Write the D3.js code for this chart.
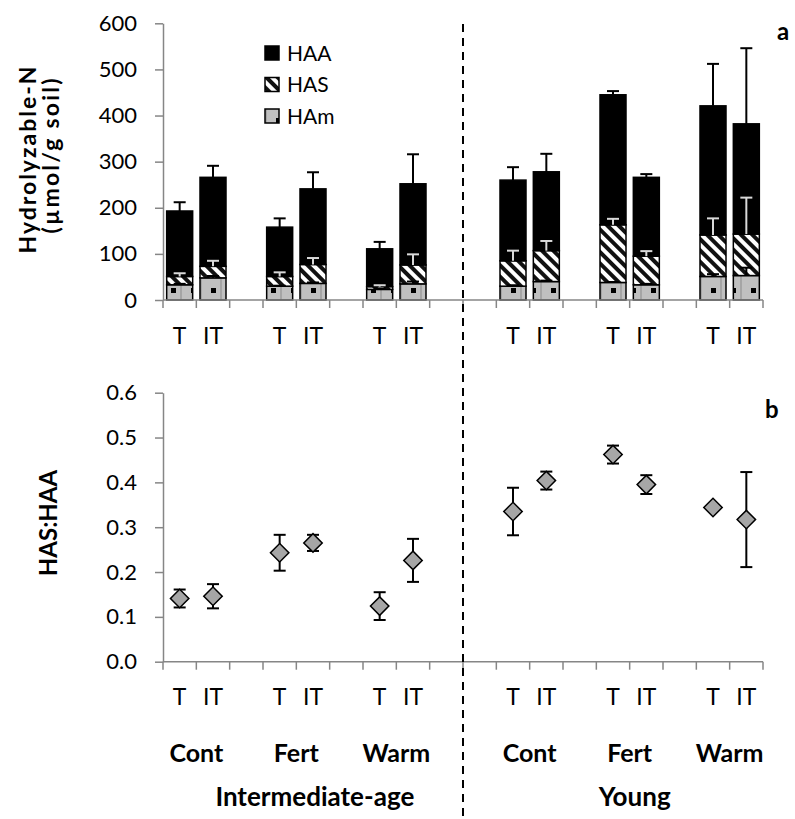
<!DOCTYPE html>
<html>
<head>
<meta charset="utf-8">
<script src="https://cdn.jsdelivr.net/npm/d3@7"></script>
<style>
  body { margin: 0; background: #fff; }
  svg { font-family: Lato, 'Open Sans', sans-serif; }
</style>
</head>
<body>
<svg id="chart" width="795" height="819"></svg>
<script>
// category slots along the x axis (gaps are empty Excel categories)
const slots = ['I-Cont-T', 'I-Cont-IT', 'gap1', 'I-Fert-T', 'I-Fert-IT', 'gap2',
  'I-Warm-T', 'I-Warm-IT', 'gap3', 'gap4', 'Y-Cont-T', 'Y-Cont-IT', 'gap5',
  'Y-Fert-T', 'Y-Fert-IT', 'gap6', 'Y-Warm-T', 'Y-Warm-IT'];
const samples = ['I-Cont-T', 'I-Cont-IT', 'I-Fert-T', 'I-Fert-IT', 'I-Warm-T', 'I-Warm-IT',
  'Y-Cont-T', 'Y-Cont-IT', 'Y-Fert-T', 'Y-Fert-IT', 'Y-Warm-T', 'Y-Warm-IT'];
const treatLabels = ['T', 'IT', 'T', 'IT', 'T', 'IT', 'T', 'IT', 'T', 'IT', 'T', 'IT'];
const groups = ['Cont', 'Fert', 'Warm'];
const sites = ['Intermediate-age', 'Young'];
const sitePrefix = ['I', 'Y'];

// panel a: stacked segments (umol/g soil) and their upper error bars
const hAm = [33, 48, 30, 36, 23, 35, 30, 40, 38, 33, 51, 53];
const hAS = [18, 25, 21, 41, 6, 41, 55, 67, 125, 62, 90, 90];
const hAA = [142, 193, 107, 164, 82, 176, 175, 171, 282, 171, 280, 239];
const hAmErr = [2, 4, 1, 2, 1, 5, 2, 2, 1, 2, 5, 17];
const hASErr = [7, 12, 9, 14, 3, 23, 22, 21, 13, 11, 36, 79];
const hAAErr = [19, 25, 19, 36, 15, 64, 28, 39, 8, 7, 91, 164];

// panel b: HAS:HAA ratio with symmetric error
const ratio = [0.141, 0.146, 0.243, 0.265, 0.124, 0.226, 0.335, 0.404, 0.462, 0.395, 0.344, 0.317];
const ratioErr = [0.02, 0.027, 0.04, 0.018, 0.031, 0.048, 0.053, 0.02, 0.02, 0.021, 0.004, 0.106];

const yTicksA = [0, 100, 200, 300, 400, 500, 600];
const yTicksB = [0, 0.1, 0.2, 0.3, 0.4, 0.5, 0.6];

const svg = d3.select('#chart');
const axisColor = '#868686';

const x = d3.scaleBand().domain(slots).range([163, 763]).paddingInner(0.22).paddingOuter(0.11);
const cx = (s) => x(s) + x.bandwidth() / 2;
const yA = d3.scaleLinear().domain([0, 600]).range([300, 23.3]);
const yB = d3.scaleLinear().domain([0, 0.6]).range([661.7, 392.7]);

// patterns
const defs = svg.append('defs');
const hatch = defs.append('pattern')
  .attr('id', 'hatchHAS')
  .attr('patternUnits', 'userSpaceOnUse')
  .attr('width', 8)
  .attr('height', 8)
  .attr('patternTransform', 'rotate(45)');
hatch.append('rect').attr('width', 8).attr('height', 8).attr('fill', '#fff');
hatch.append('rect').attr('width', 8).attr('height', 4).attr('fill', '#111');

const dots = defs.append('pattern')
  .attr('id', 'dotsHAm')
  .attr('patternUnits', 'userSpaceOnUse')
  .attr('width', 20)
  .attr('height', 22)
  .attr('x', 3)
  .attr('y', 15);
dots.append('rect').attr('width', 20).attr('height', 22).attr('fill', '#c0c0c0');
dots.append('rect').attr('x', 8).attr('y', 9).attr('width', 5).attr('height', 5).attr('fill', '#000');
dots.append('line').attr('x1', 18).attr('x2', 18).attr('y1', 0).attr('y2', 22)
  .attr('stroke', '#8a8a8a').attr('stroke-width', 1);

// ---------- panel a ----------
const rows = samples.map((s, i) => ({ slot: s, HAm: hAm[i], HAS: hAS[i], HAA: hAA[i] }));
const keys = ['HAm', 'HAS', 'HAA'];
const fills = { HAm: 'url(#dotsHAm)', HAS: 'url(#hatchHAS)', HAA: '#000' };
const errs = { HAm: hAmErr, HAS: hASErr, HAA: hAAErr };
const errColor = { HAm: '#000', HAS: '#d9d9d9', HAA: '#000' };
const stacked = d3.stack().keys(keys)(rows);

const gA = svg.append('g').attr('id', 'panelA');

gA.selectAll('g.layer')
  .data(stacked)
  .enter()
  .append('g')
  .attr('class', 'layer')
  .attr('fill', (d) => fills[d.key])
  .selectAll('rect')
  .data((d) => d)
  .enter()
  .append('rect')
  .attr('x', (d) => x(d.data.slot))
  .attr('y', (d) => yA(d[1]))
  .attr('width', x.bandwidth())
  .attr('height', (d) => yA(d[0]) - yA(d[1]))
  .attr('stroke', '#000')
  .attr('stroke-width', 1.5);

stacked.forEach((layer) => {
  const e = errs[layer.key];
  const g = gA.append('g')
    .attr('stroke', errColor[layer.key])
    .attr('stroke-width', 2);
  g.selectAll('line.stem')
    .data(layer)
    .enter()
    .append('line')
    .attr('class', 'stem')
    .attr('x1', (d) => cx(d.data.slot))
    .attr('x2', (d) => cx(d.data.slot))
    .attr('y1', (d) => yA(d[1]))
    .attr('y2', (d, i) => yA(d[1] + e[i]));
  g.selectAll('line.cap')
    .data(layer)
    .enter()
    .append('line')
    .attr('class', 'cap')
    .attr('x1', (d) => cx(d.data.slot) - 6)
    .attr('x2', (d) => cx(d.data.slot) + 6)
    .attr('y1', (d, i) => yA(d[1] + e[i]))
    .attr('y2', (d, i) => yA(d[1] + e[i]));
});

// ---------- panel b ----------
const gB = svg.append('g').attr('id', 'panelB');
const ptData = samples.map((s, i) => ({ slot: s, v: ratio[i], e: ratioErr[i] }));

const eb = gB.append('g').attr('stroke', '#000').attr('stroke-width', 2);
eb.selectAll('line.stem')
  .data(ptData)
  .enter()
  .append('line')
  .attr('class', 'stem')
  .attr('x1', (d) => cx(d.slot))
  .attr('x2', (d) => cx(d.slot))
  .attr('y1', (d) => yB(d.v - d.e))
  .attr('y2', (d) => yB(d.v + d.e));
[1, -1].forEach((sign, k) => {
  eb.selectAll(`line.cap${k}`)
    .data(ptData)
    .enter()
    .append('line')
    .attr('class', `cap${k}`)
    .attr('x1', (d) => cx(d.slot) - 6)
    .attr('x2', (d) => cx(d.slot) + 6)
    .attr('y1', (d) => yB(d.v + sign * d.e))
    .attr('y2', (d) => yB(d.v + sign * d.e));
});

gB.selectAll('path.pt')
  .data(ptData)
  .enter()
  .append('path')
  .attr('class', 'pt')
  .attr('d', d3.symbol(d3.symbolSquare, 170))
  .attr('transform', (d) => `translate(${cx(d.slot)},${yB(d.v)}) rotate(45)`)
  .attr('fill', '#a6a6a6')
  .attr('stroke', '#000')
  .attr('stroke-width', 1.5);

// ---------- axes ----------
function drawYAxis(scale, ticks, fmt) {
  const g = svg.append('g')
    .attr('transform', 'translate(163,0)')
    .call(d3.axisLeft(scale).tickValues(ticks).tickFormat(fmt).tickSize(8).tickSizeOuter(0).tickPadding(18));
  g.select('.domain').attr('stroke', axisColor).attr('stroke-width', 1.5);
  g.selectAll('.tick line').attr('stroke', axisColor).attr('stroke-width', 1.5);
  g.selectAll('.tick text')
    .attr('font-family', 'Lato, sans-serif')
    .attr('font-size', 22)
    .attr('fill', '#000');
}
drawYAxis(yA, yTicksA, d3.format('d'));
drawYAxis(yB, yTicksB, d3.format('.1f'));

function drawXAxis(yPos) {
  const [x0, x1] = x.range();
  const g = svg.append('g');
  g.append('line')
    .attr('x1', x0).attr('x2', x1)
    .attr('y1', yPos).attr('y2', yPos)
    .attr('stroke', axisColor).attr('stroke-width', 1.5);
  g.selectAll('line.tick')
    .data(d3.range(slots.length + 1))
    .enter()
    .append('line')
    .attr('class', 'tick')
    .attr('x1', (i) => x0 + i * x.step())
    .attr('x2', (i) => x0 + i * x.step())
    .attr('y1', yPos)
    .attr('y2', yPos + 8)
    .attr('stroke', axisColor).attr('stroke-width', 1.5);
}
drawXAxis(yA(0));
drawXAxis(yB(0));

// treatment labels under both panels
[336, 697].forEach((ty) => {
  svg.append('g')
    .selectAll('text')
    .data(samples)
    .enter()
    .append('text')
    .attr('x', (d) => cx(d))
    .attr('y', ty)
    .attr('dy', '0.36em')
    .attr('text-anchor', 'middle')
    .attr('font-size', 23)
    .text((d, i) => treatLabels[i]);
});

// group and site labels
sites.forEach((site, si) => {
  groups.forEach((grp) => {
    const gx = (cx(`${sitePrefix[si]}-${grp}-T`) + cx(`${sitePrefix[si]}-${grp}-IT`)) / 2;
    svg.append('text')
      .attr('x', gx)
      .attr('y', 753)
      .attr('dy', '0.36em')
      .attr('text-anchor', 'middle')
      .attr('font-weight', 'bold')
      .attr('font-size', 25)
      .text(grp);
  });
});
svg.append('text')
  .attr('x', (x.range()[0] + x(slots[9])) / 2)
  .attr('y', 797)
  .attr('dy', '0.36em')
  .attr('text-anchor', 'middle')
  .attr('font-weight', 'bold')
  .attr('font-size', 26)
  .text(sites[0]);
svg.append('text')
  .attr('x', (cx('Y-Fert-T') + cx('Y-Fert-IT')) / 2 + 5)
  .attr('y', 797)
  .attr('dy', '0.36em')
  .attr('text-anchor', 'middle')
  .attr('font-weight', 'bold')
  .attr('font-size', 26)
  .text(sites[1]);

// dashed divider between sites
const divX = x.range()[0] + 9 * x.step();
svg.append('line')
  .attr('x1', divX).attr('x2', divX)
  .attr('y1', 24).attr('y2', 819)
  .attr('stroke', '#000')
  .attr('stroke-width', 2)
  .attr('stroke-dasharray', '8,6');

// axis titles
svg.append('text')
  .attr('transform', 'translate(36,160) rotate(-90)')
  .attr('text-anchor', 'middle')
  .attr('font-weight', 'bold')
  .attr('font-size', 23)
  .attr('textLength', 187)
  .attr('lengthAdjust', 'spacing')
  .text('Hydrolyzable-N');
svg.append('text')
  .attr('transform', 'translate(59,156) rotate(-90)')
  .attr('text-anchor', 'middle')
  .attr('font-weight', 'bold')
  .attr('font-size', 23)
  .attr('textLength', 155)
  .attr('lengthAdjust', 'spacing')
  .text('(µmol/g soil)');
svg.append('text')
  .attr('transform', 'translate(57,523) rotate(-90)')
  .attr('text-anchor', 'middle')
  .attr('font-weight', 'bold')
  .attr('font-size', 24)
  .text('HAS:HAA');

// panel letters
svg.append('text').attr('x', 777).attr('y', 40).attr('font-weight', 'bold').attr('font-size', 24).text('a');
svg.append('text').attr('x', 765).attr('y', 418).attr('font-weight', 'bold').attr('font-size', 24).text('b');

// legend
const legendKeys = ['HAA', 'HAS', 'HAm'];
const legend = svg.append('g')
  .selectAll('g')
  .data(legendKeys)
  .enter()
  .append('g')
  .attr('transform', (d, i) => `translate(265,${53 + i * 31.5})`);
legend.append('rect')
  .attr('x', 0).attr('y', -7)
  .attr('width', 14).attr('height', 14)
  .attr('fill', (d) => fills[d])
  .attr('stroke', '#000')
  .attr('stroke-width', 1.5);
legend.append('text')
  .attr('x', 22)
  .attr('dy', '0.36em')
  .attr('font-size', 21)
  .text((d) => d);
</script>
</body>
</html>
